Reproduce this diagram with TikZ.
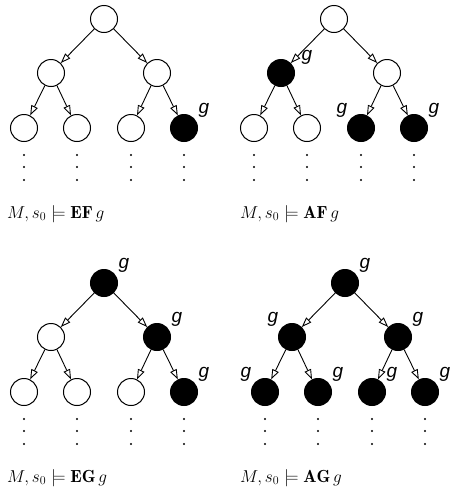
\documentclass[tikz,border=0pt]{standalone}
\usepackage{fontspec}
\newfontfamily\gfont{Liberation Sans}
\usetikzlibrary{arrows.meta}

\begin{document}
\begin{tikzpicture}[
    x=1pt, y=-1pt,
    st/.style={draw, circle, line width=1pt, minimum size=27pt, inner sep=0pt, fill=white},
    sat/.style={st, fill=black},
    link/.style={-{Triangle[open, fill=white, length=10pt, width=7pt]}, line width=0.9pt},
    glab/.style={font=\gfont\itshape\fontsize{19}{20}\selectfont, inner sep=0pt},
    gr/.style={label={[glab, xshift=20pt, yshift=18pt]center:g}},
    gl/.style={label={[glab, xshift=-19pt, yshift=18pt]center:g}},
    formula/.style={anchor=west, font=\fontsize{17.5}{20}\selectfont, inner sep=0pt}
]
\useasboundingbox (0,0) rectangle (451,493);

% EF g
\node[st] (ef0) at (104,19) {};
\node[st] (ef1) at (51,73) {};
\node[st] (ef2) at (157,73) {};
\node[st] (ef3) at (24,128) {};
\node[st] (ef4) at (77,128) {};
\node[st] (ef5) at (131,128) {};
\node[sat, gr] (ef6) at (184,128) {};
\node[formula] (efl) at (7,214) {$M, s_0 \models \mathbf{EF}\, g$};

% AF g
\node[st] (af0) at (334,19) {};
\node[sat, label={[glab, xshift=26pt, yshift=16pt]center:g}] (af1) at (281,73) {};
\node[st] (af2) at (387,73) {};
\node[st] (af3) at (254,128) {};
\node[st] (af4) at (307,128) {};
\node[sat, gl] (af5) at (361,128) {};
\node[sat, gr] (af6) at (414,128) {};
\node[formula] (afl) at (240,214) {$M, s_0 \models \mathbf{AF}\, g$};

% EG g
\node[sat, gr] (eg0) at (104,283) {};
\node[st] (eg1) at (51,337) {};
\node[sat, gr] (eg2) at (157,337) {};
\node[st] (eg3) at (24,392) {};
\node[st] (eg4) at (77,392) {};
\node[st] (eg5) at (131,392) {};
\node[sat, gr] (eg6) at (184,392) {};
\node[formula] (egl) at (7,478) {$M, s_0 \models \mathbf{EG}\, g$};

% AG g
\node[sat, gr] (ag0) at (345,283) {};
\node[sat, gl] (ag1) at (292,337) {};
\node[sat, gr] (ag2) at (398,337) {};
\node[sat, gl] (ag3) at (265,392) {};
\node[sat, gr] (ag4) at (318,392) {};
\node[sat, gr] (ag5) at (372,392) {};
\node[sat, gr] (ag6) at (425,392) {};
\node[formula] (agl) at (240,478) {$M, s_0 \models \mathbf{AG}\, g$};

\foreach \t in {ef,af,eg,ag} {
  \path[link] (\t0) edge (\t1) edge (\t2)
              (\t1) edge (\t3) edge (\t4)
              (\t2) edge (\t5) edge (\t6);
  \foreach \i in {3,...,6}
    \foreach \d in {27,39,52}
      \fill (\t\i) ++(0,\d) circle[radius=1.1pt];
}
\end{tikzpicture}
\end{document}
